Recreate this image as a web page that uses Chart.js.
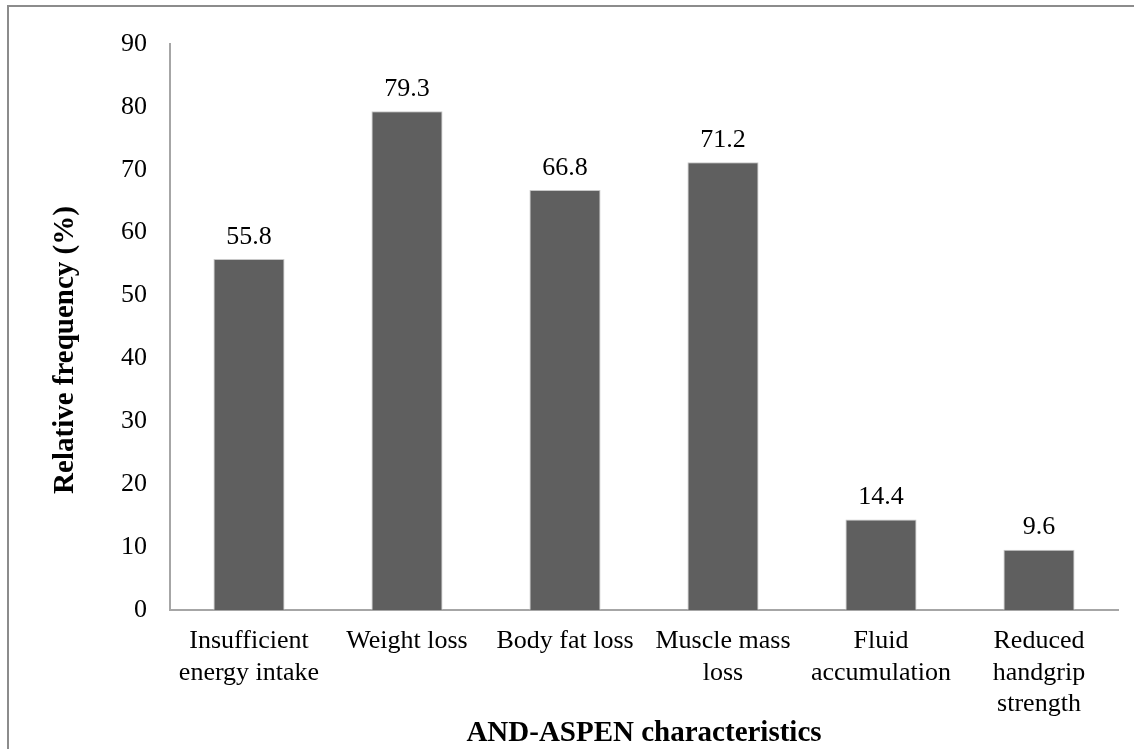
<!DOCTYPE html>
<html>
<head>
    <title>AND-ASPEN characteristics</title>
    <script src="https://cdn.jsdelivr.net/npm/chart.js"></script>
    <style>
        body { margin: 0; background: #fff; }
        #frame { position: absolute; left: 7px; top: 5px; width: 1127px; height: 744px;
                 border-left: 2px solid #8c8c8c; border-top: 2px solid #8c8c8c; }
        #myChart { position: absolute; left: 0; top: 0; }
    </style>
</head>
<body>
    <div id="frame"></div>
    <canvas id="myChart" width="1134" height="749"></canvas>

    <script>
        // data
        var categories = [
            ['Insufficient', 'energy intake'],
            'Weight loss',
            'Body fat loss',
            ['Muscle mass', 'loss'],
            ['Fluid', 'accumulation'],
            ['Reduced', 'handgrip', 'strength']
        ];
        var frequency = [55.8, 79.3, 66.8, 71.2, 14.4, 9.6];
        var yTicks = [0, 10, 20, 30, 40, 50, 60, 70, 80, 90];

        var serif = 'Liberation Serif';

        // value labels above bars + axis titles
        var labelsPlugin = {
            id: 'labels',
            afterDatasetsDraw: function (chart) {
                var ctx = chart.ctx;
                var meta = chart.getDatasetMeta(0);
                ctx.save();
                ctx.fillStyle = '#000';
                ctx.font = '26px "' + serif + '"';
                ctx.textAlign = 'center';
                ctx.textBaseline = 'bottom';
                meta.data.forEach(function (bar, i) {
                    ctx.fillText(frequency[i].toFixed(1), bar.x, bar.y - 9);
                });

                ctx.font = 'bold 29px "' + serif + '"';
                ctx.textBaseline = 'middle';
                ctx.fillText('AND-ASPEN characteristics', (chart.chartArea.left + chart.chartArea.right) / 2, 734);

                ctx.translate(66, 350);
                ctx.rotate(-Math.PI / 2);
                ctx.fillText('Relative frequency (%)', 0, 0);
                ctx.restore();
            }
        };

        var ctx = document.getElementById('myChart').getContext('2d');
        var myChart = new Chart(ctx, {
            type: 'bar',
            data: {
                labels: categories,
                datasets: [{
                    data: frequency,
                    backgroundColor: '#5f5f5f',
                    borderColor: '#c8c8c8',
                    borderWidth: 1,
                    categoryPercentage: 1,
                    barPercentage: 0.45
                }]
            },
            options: {
                responsive: false,
                animation: false,
                layout: { padding: { left: 0, top: 44, right: 16, bottom: 0 } },
                plugins: {
                    legend: { display: false },
                    tooltip: { enabled: false }
                },
                scales: {
                    x: {
                        grid: { display: false, drawTicks: false },
                        border: { display: true, color: '#a6a6a6', width: 2 },
                        ticks: {
                            color: '#000',
                            font: { family: serif, size: 26 },
                            padding: 16,
                            maxRotation: 0,
                            autoSkip: false
                        },
                        afterFit: function (scale) { scale.height = 139; }
                    },
                    y: {
                        min: 0,
                        max: 90,
                        afterBuildTicks: function (scale) {
                            scale.ticks = yTicks.map(function (v) { return { value: v }; });
                        },
                        grid: { display: false, drawTicks: false },
                        border: { display: true, color: '#a6a6a6', width: 2 },
                        ticks: {
                            color: '#000',
                            font: { family: serif, size: 26 },
                            padding: 23
                        },
                        afterFit: function (scale) { scale.width = 170; }
                    }
                }
            },
            plugins: [labelsPlugin]
        });
    </script>
</body>
</html>
